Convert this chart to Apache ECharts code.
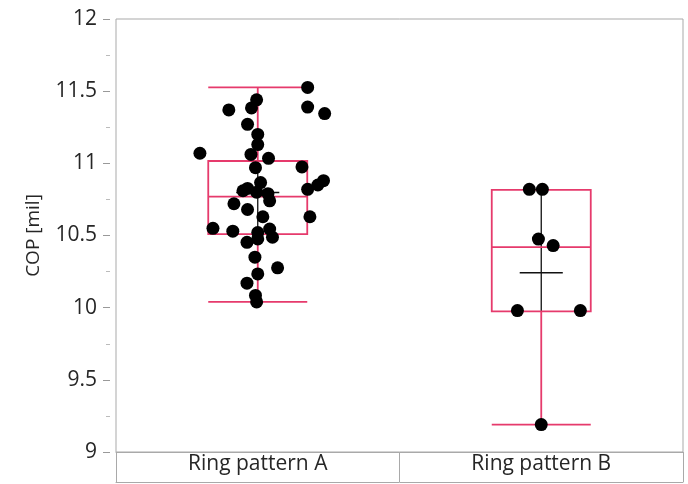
<!DOCTYPE html>
<html>
<head>
<meta charset="utf-8">
<script src="https://cdn.jsdelivr.net/npm/echarts@6/dist/echarts.min.js"></script>
<style>
html,body{margin:0;padding:0;background:#fff;}
#chart{width:688px;height:484px;}
</style>
</head>
<body>
<div id="chart"></div>
<script>
// ---- data ----
const categories = ['Ring pattern A', 'Ring pattern B'];
const yTicks = [9, 9.5, 10, 10.5, 11, 11.5, 12];

const valuesA = [11.526, 11.44, 11.384, 11.37, 11.39, 11.345, 11.27, 11.20, 11.13, 11.07,
  11.062, 11.035, 10.975, 10.97, 10.88, 10.85, 10.82, 10.867, 10.826, 10.80,
  10.79, 10.81, 10.72, 10.68, 10.74, 10.63, 10.63, 10.55, 10.53, 10.52,
  10.545, 10.453, 10.476, 10.488, 10.35, 10.276, 10.234, 10.17, 10.085, 10.04];
// horizontal jitter, in category units
const jitterA = [0.176, -0.004, -0.022, -0.102, 0.176, 0.236, -0.036, 0, 0, -0.204,
  -0.024, 0.038, 0.156, -0.008, 0.232, 0.212, 0.176, 0.010, -0.036, -0.004,
  0.036, -0.052, -0.084, -0.036, 0.042, 0.018, 0.184, -0.158, -0.088, 0,
  0.042, -0.038, 0, 0.052, -0.010, 0.070, 0, -0.038, -0.008, -0.004];

const valuesB = [10.82, 10.82, 10.475, 10.43, 9.98, 9.98, 9.19];
const jitterB = [-0.042, 0.004, -0.010, 0.042, -0.084, 0.138, 0];

// box statistics [min, Q1, median, Q3, max]
const boxA = [10.04, 10.51, 10.77, 11.016, 11.526];
const boxB = [9.19, 9.975, 10.42, 10.816, 10.816];

// ---- derived ----
function meanSd(v) {
  const m = v.reduce((a, b) => a + b, 0) / v.length;
  const s = Math.sqrt(v.reduce((a, b) => a + (b - m) * (b - m), 0) / (v.length - 1));
  return [m, s];
}
const msA = meanSd(valuesA), msB = meanSd(valuesB);

const pts = [];
valuesA.forEach((v, i) => pts.push([0 + jitterA[i], v]));
valuesB.forEach((v, i) => pts.push([1 + jitterB[i], v]));

const RED = '#e63a6c';
const GRAY = '#a9a9a9';
const TXT = '#262626';
const FONT = '"Open Sans", sans-serif';

const chart = echarts.init(document.getElementById('chart'), null, {renderer: 'canvas'});
chart.setOption({
  animation: false,
  backgroundColor: '#fff',
  grid: {left: 116, right: 5, top: 19, bottom: 32, show: true, borderColor: GRAY, borderWidth: 1, backgroundColor: 'transparent'},
  xAxis: [
    {
      type: 'category', data: categories, boundaryGap: true, position: 'bottom',
      axisLine: {show: true, onZero: false, lineStyle: {color: GRAY, width: 1}},
      axisTick: {show: true, length: 30, alignWithLabel: false, lineStyle: {color: GRAY, width: 1}},
      axisLabel: {fontFamily: FONT, fontSize: 21, color: TXT, margin: 2},
      splitLine: {show: false}
    },
    {
      type: 'value', min: -0.5, max: 1.5, position: 'bottom', offset: 30,
      axisLine: {show: true, onZero: false, lineStyle: {color: GRAY, width: 1}},
      axisTick: {show: false}, axisLabel: {show: false}, splitLine: {show: false}
    }
  ],
  yAxis: {
    type: 'value', min: yTicks[0], max: yTicks[yTicks.length - 1], interval: 0.5,
    position: 'left', offset: 6,
    name: 'COP [mil]', nameLocation: 'middle', nameRotate: 90, nameGap: 67,
    nameTextStyle: {fontFamily: FONT, fontSize: 19, color: TXT},
    axisLine: {show: false, onZero: false},
    axisTick: {show: true, length: 7, lineStyle: {color: '#999'}},
    minorTick: {show: true, splitNumber: 2, length: 4, lineStyle: {color: '#bbb'}},
    axisLabel: {fontFamily: FONT, fontSize: 21, color: TXT, margin: 13},
    splitLine: {show: false}
  },
  series: [
    {
      // mean line and ±1 SD line (visible part inside the box)
      type: 'custom', xAxisIndex: 1, yAxisIndex: 0, z: 2,
      data: [[0, msA[0], msA[1], boxA[1], boxA[3]], [1, msB[0], msB[1], boxB[1], boxB[3]]],
      renderItem: function (params, api) {
        const x = api.value(0), m = api.value(1), s = api.value(2);
        const q1 = api.value(3), q3 = api.value(4);
        const top = api.coord([x, Math.min(m + s, q3)]), bot = api.coord([x, Math.max(m - s, q1)]);
        const l = api.coord([x - 0.076, m]), r = api.coord([x + 0.076, m]);
        return {
          type: 'group', children: [
            {type: 'line', shape: {x1: top[0], y1: top[1], x2: bot[0], y2: bot[1]}, style: {stroke: '#111', lineWidth: 1.3}},
            {type: 'line', shape: {x1: l[0], y1: l[1], x2: r[0], y2: r[1]}, style: {stroke: '#111', lineWidth: 1.5}}
          ]
        };
      }
    },
    {
      type: 'boxplot', xAxisIndex: 0, yAxisIndex: 0, z: 3,
      boxWidth: [99, 99],
      data: [boxA, boxB],
      itemStyle: {color: 'rgba(0,0,0,0)', borderColor: RED, borderWidth: 1.8}
    },
    {
      type: 'scatter', xAxisIndex: 1, yAxisIndex: 0, z: 4,
      data: pts, symbol: 'circle', symbolSize: 13,
      itemStyle: {color: '#000', opacity: 1}
    }
  ]
});
</script>
</body>
</html>
